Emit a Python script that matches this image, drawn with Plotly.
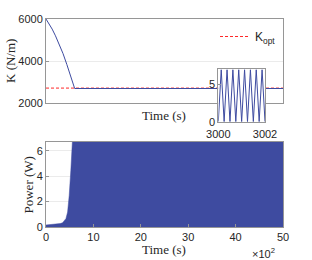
import plotly.graph_objects as go

# ---- data ----
t_k = [0, 60, 130, 200, 280, 360, 440, 520, 605, 5000]                    # s
k_val = [6000, 5800, 5520, 5200, 4800, 4350, 3830, 3280, 2690, 2690]      # N/m
t_opt = [0, 5000]
k_opt = [2710, 2710]

t_env = [0, 100, 200, 300, 350, 420, 456, 490, 524, 550, 560, 5000]   # s
p_env = [0.16, 0.18, 0.20, 0.27, 0.33, 0.66, 1.18, 2.5, 4.47, 6.6, 6.95, 6.95]  # W

t_zoom = [3000.0, 3000.125, 3000.25, 3000.375, 3000.5, 3000.625, 3000.75, 3000.875,
          3001.0, 3001.125, 3001.25, 3001.375, 3001.5, 3001.625, 3001.75, 3001.875, 3002.0]
p_zoom = [0.0, 6.9, 0.0, 6.9, 0.0, 6.9, 0.0, 6.9,
          0.0, 6.9, 0.0, 6.9, 0.0, 6.9, 0.0, 6.9, 0.0]

x_ticks = [0, 1000, 2000, 3000, 4000, 5000]
x_ticktext = ["0", "10", "20", "30", "40", "50"]
k_ticks = [2000, 4000, 6000]
p_ticks = [0, 2, 4, 6]
zoom_xticks = [3000, 3002]
zoom_yticks = [0, 5]
zoom_xrange = [3000, 3002]
zoom_yrange = [0, 6.95]

BLUE = "rgb(62,75,160)"
RED = "rgb(255,40,40)"
FRAME = "rgb(150,150,150)"
TICKF = dict(family="Liberation Sans, Arial, sans-serif", size=11, color="#262626")
SERIF = dict(family="Liberation Serif, Times New Roman, serif", size=13, color="#262626")

W, H = 312, 260
def px(x): return x / W
def py(y): return 1 - y / H

fig = go.Figure()

fig.add_trace(go.Scatter(x=t_opt, y=k_opt, mode="lines", name="K<sub>opt</sub>",
                         line=dict(color=RED, width=1, dash="3px,2px"),
                         xaxis="x", yaxis="y"))
fig.add_trace(go.Scatter(x=t_k, y=k_val, mode="lines", showlegend=False,
                         line=dict(color=BLUE, width=1), xaxis="x", yaxis="y"))

fig.add_trace(go.Scatter(x=t_env, y=p_env, mode="lines", showlegend=False,
                         fill="tozeroy", fillcolor=BLUE,
                         line=dict(color=BLUE, width=0.5), xaxis="x2", yaxis="y2"))

# inset background
fig.add_trace(go.Scatter(x=[zoom_xrange[0], zoom_xrange[1], zoom_xrange[1], zoom_xrange[0], zoom_xrange[0]],
                         y=[zoom_yrange[0], zoom_yrange[0], zoom_yrange[1], zoom_yrange[1], zoom_yrange[0]],
                         mode="lines", fill="toself", fillcolor="white",
                         line=dict(width=0), showlegend=False, hoverinfo="skip",
                         xaxis="x3", yaxis="y3"))
fig.add_trace(go.Scatter(x=t_zoom, y=p_zoom, mode="lines", showlegend=False,
                         line=dict(color=BLUE, width=1), xaxis="x3", yaxis="y3"))

common = dict(showline=True, linecolor=FRAME, linewidth=1, mirror=True, automargin=False,
              zeroline=False, tickfont=TICKF, ticklen=3, tickcolor=FRAME)

xdom = [px(46), px(283)]


def ann(text, x, y, angle=0, font=SERIF):
    return dict(text=text, x=px(x), y=py(y), xref="paper", yref="paper",
                xanchor="center", yanchor="middle", textangle=angle,
                showarrow=False, font=font)


fig.update_layout(
    width=W, height=H, autosize=False,
    margin=dict(l=0, r=0, t=0, b=0, pad=0, autoexpand=False),
    paper_bgcolor="white", plot_bgcolor="white",
    xaxis=dict(domain=xdom, range=[0, 5000], showticklabels=False, showgrid=False,
               anchor="y", ticks="", **common),
    yaxis=dict(domain=[py(103), py(19)], range=[2000, 6000], tickvals=k_ticks, ticks="inside",
               showgrid=True, gridcolor="rgb(235,235,235)", anchor="x", **common),
    xaxis2=dict(domain=xdom, range=[0, 5000], tickvals=x_ticks, ticktext=x_ticktext,
                ticks="inside", showgrid=False, anchor="y2", **common),
    yaxis2=dict(domain=[py(227), py(142)], range=[0, 6.7], tickvals=p_ticks, ticks="inside",
                showgrid=True, gridcolor="rgb(235,235,235)", anchor="x2", **common),
    xaxis3=dict(domain=[px(218.3), px(265)], range=zoom_xrange, tickvals=zoom_xticks,
                ticks="inside", showgrid=False, anchor="y3", ticklabelstandoff=2, **common),
    yaxis3=dict(domain=[py(121.7), py(69.3)], range=zoom_yrange, tickvals=zoom_yticks,
                ticks="inside", showgrid=False, anchor="x3", **common),
    legend=dict(x=px(281), y=py(22), xanchor="right", yanchor="top",
                bgcolor="rgba(0,0,0,0)", itemwidth=30,
                font=dict(family="Liberation Sans, Arial, sans-serif", size=12, color="#262626")),
    annotations=[
        ann("K (N/m)", 10, 61, -90),
        ann("Time (s)", 164, 115),
        ann("Power (W)", 27.5, 185, -90),
        ann("Time (s)", 164, 249),
        ann("×10<sup>2</sup>", 263, 253, 0, TICKF),
    ],
)

fig.write_html("out.html", config={"displayModeBar": False},
               post_script="document.body.style.margin='0';document.body.style.padding='0';")
